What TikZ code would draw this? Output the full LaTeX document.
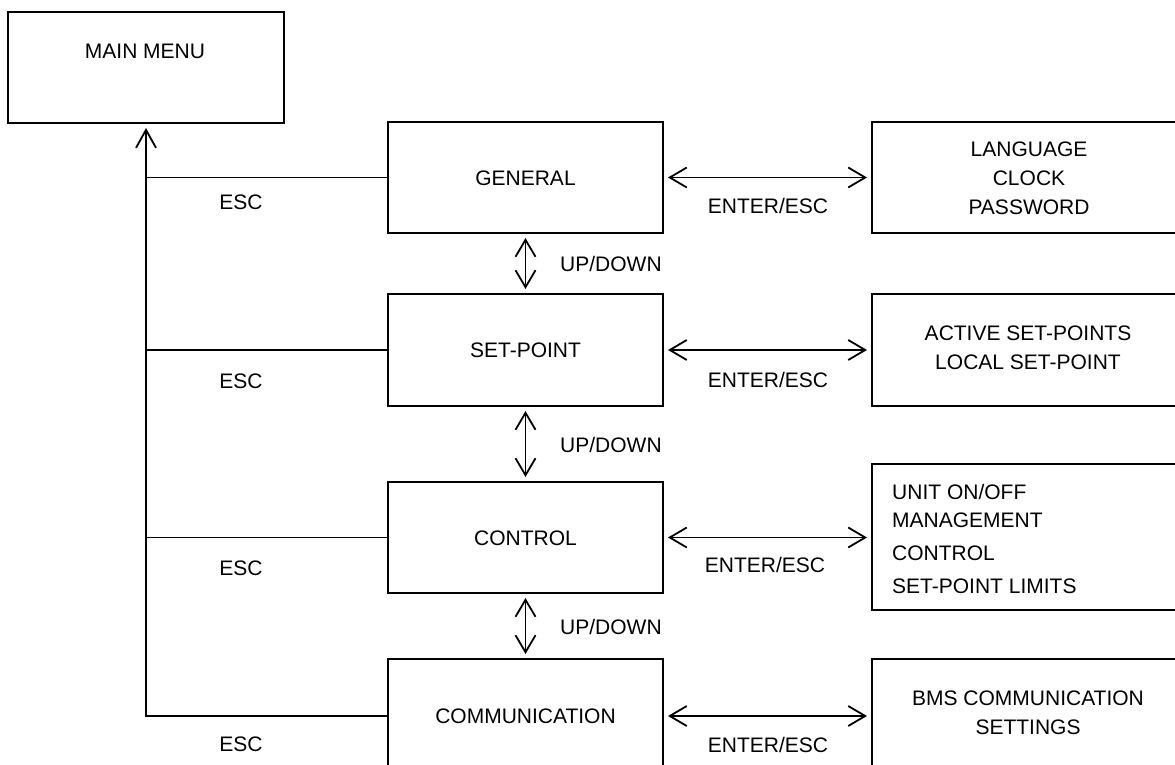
\documentclass[tikz,border=0pt]{standalone}
\usepackage{fontspec}
\setmainfont{Liberation Sans}
\usetikzlibrary{arrows.meta}
\begin{document}
\begin{tikzpicture}[x=1pt,y=-1pt,
  menubox/.style={draw, line width=2pt, rectangle, inner sep=0pt, anchor=north west},
  lbl/.style={font=\fontsize{21}{25}\selectfont, inner sep=0pt, text height=15pt, text depth=0pt},
  tip/.style={Straight Barb[length=17pt, width=20pt]},
  escline/.style={line width=1.4pt},
  escarrow/.style={line width=1.8pt, -{Straight Barb[length=18pt, width=20pt]}, shorten >=4pt},
  twoway/.style={line width=1.8pt, {Straight Barb[length=17pt, width=20pt]}-{Straight Barb[length=17pt, width=20pt]}, shorten >=4pt, shorten <=4pt}]
\useasboundingbox (0,0) rectangle (1175,765);
\clip (0,0) rectangle (1175,765);

% main menu
\node[menubox, minimum width=276pt, minimum height=111pt] (main) at (7,11) {};
\node[lbl] (mainlbl) at (145,51) {MAIN MENU};

% left column of sub menus
\node[menubox, minimum width=275pt, minimum height=111pt] (general) at (387,121) {};
\node[menubox, minimum width=275pt, minimum height=112pt] (setpoint) at (387,293) {};
\node[menubox, minimum width=275pt, minimum height=111pt] (control) at (387,481) {};
\node[menubox, minimum width=275pt, minimum height=114pt] (comm) at (387,658) {};
\node[lbl] at (general.center) {GENERAL};
\node[lbl] at (setpoint.center) {SET-POINT};
\node[lbl] at (control.center) {CONTROL};
\node[lbl] at (comm.center) {COMMUNICATION};

% right column of item lists
\node[menubox, minimum width=316pt, minimum height=111pt] (rgen) at (871,121) {};
\node[menubox, minimum width=316pt, minimum height=112pt] (rset) at (871,293) {};
\node[menubox, minimum width=316pt, minimum height=146pt] (rctl) at (871,463) {};
\node[menubox, minimum width=316pt, minimum height=114pt] (rcom) at (871,658) {};

\node[lbl] at (1029,149) {LANGUAGE};
\node[lbl] at (1029,178) {CLOCK};
\node[lbl] at (1029,207) {PASSWORD};

\node[lbl] at (1028,333) {ACTIVE SET-POINTS};
\node[lbl] at (1028,362) {LOCAL SET-POINT};

\node[lbl, anchor=west] at (892,492) {UNIT ON/OFF};
\node[lbl, anchor=west] at (892,520) {MANAGEMENT};
\node[lbl, anchor=west] at (892,553) {CONTROL};
\node[lbl, anchor=west] at (892,586) {SET-POINT LIMITS};

\node[lbl] at (1028,698) {BMS COMMUNICATION};
\node[lbl] at (1028,727) {SETTINGS};

% ESC return path to the main menu
\draw[escarrow] (comm.west) -| (main.south);
\draw[escline] (general.west) -- (general.west -| main.south);
\draw[escline] (setpoint.west) -- (setpoint.west -| main.south);
\draw[escline] (control.west) -- (control.west -| main.south);
\node[lbl] at (241,202) {ESC};
\node[lbl] at (241,381) {ESC};
\node[lbl] at (241,568) {ESC};
\node[lbl] at (241,744) {ESC};

% ENTER/ESC links
\draw[twoway] (general.east) -- (rgen.west);
\draw[twoway] (setpoint.east) -- (rset.west);
\draw[twoway] (control.east) -- (control.east -| rctl.west);
\draw[twoway] (comm.east) -- (rcom.west);
\node[lbl] at (768,206) {ENTER/ESC};
\node[lbl] at (768,380) {ENTER/ESC};
\node[lbl] at (765,565) {ENTER/ESC};
\node[lbl] at (768,745) {ENTER/ESC};

% UP/DOWN links
\draw[twoway] (general.south) -- (setpoint.north);
\draw[twoway] (setpoint.south) -- (control.north);
\draw[twoway] (control.south) -- (comm.north);
\node[lbl, anchor=west] at (560,264) {UP/DOWN};
\node[lbl, anchor=west] at (560,445) {UP/DOWN};
\node[lbl, anchor=west] at (560,627) {UP/DOWN};
\end{tikzpicture}
\end{document}
